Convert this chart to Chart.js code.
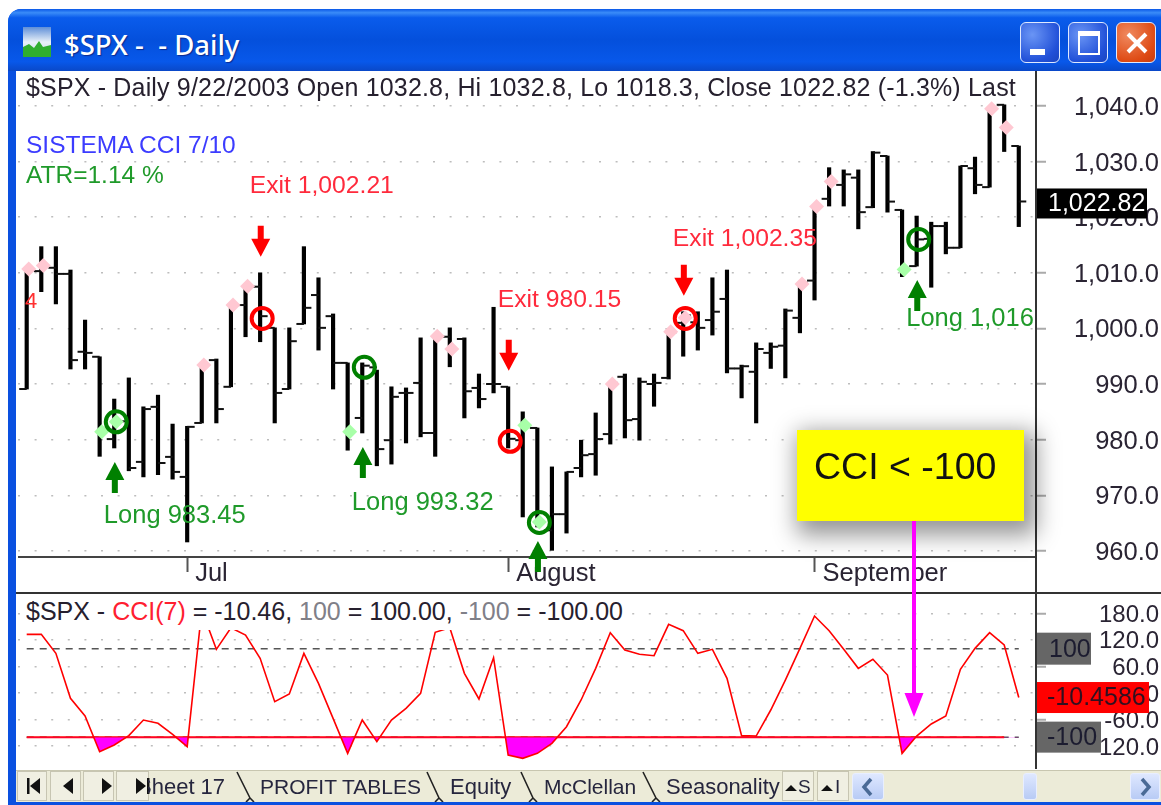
<!DOCTYPE html>
<html>
<head>
<meta charset="utf-8">
<title>$SPX - Daily</title>
<script src="https://cdn.jsdelivr.net/npm/chart.js@4"></script>
<style>
html,body{margin:0;padding:0;background:#fff;overflow:hidden;width:1161px;height:805px;font-family:"Liberation Sans",Arial,sans-serif;color:#26202e}
#all{position:absolute;left:0;top:0;width:1161px;height:805px;overflow:hidden;filter:blur(.45px)}
#win{position:absolute;left:8px;top:9px;width:1153px;height:796px;background:#0a50e0;border-radius:13px 0 0 0}
#titlebar{position:absolute;left:8px;top:9px;width:1153px;height:62px;border-radius:13px 0 0 0;background:linear-gradient(#0a58e8 0,#3a8cf8 6%,#0a5cec 14%,#0450dc 50%,#0858ea 85%,#0a48c8 100%)}
#titletext{position:absolute;left:64px;top:26px;font:500 27.5px "Noto Sans",sans-serif;color:#fff;white-space:pre;text-shadow:1px 1px 1px #0a2a90;line-height:38px}
.wbtn{position:absolute;top:22px;width:40px;height:41px;border-radius:6px;border:1px solid #dfe9ff;box-sizing:border-box;background:radial-gradient(circle at 30% 30%,#6a95f5,#2150d8 70%,#1a44c0)}
#panel{position:absolute;left:16px;top:71px;width:1145px;height:700px;background:#fff}
canvas{position:absolute;display:block}
#c1{left:18px;top:72px}
#c2{left:18px;top:594px}
.hd{position:absolute;white-space:pre;font-size:25px;line-height:30px}
#sep{position:absolute;left:16px;top:592px;width:1145px;height:2px;background:#333}
#vsep{position:absolute;left:1035px;top:71px;width:2px;height:698px;background:#333}
#yellow{position:absolute;left:797px;top:430px;width:227px;height:91px;background:#ffff00;box-shadow:6px 8px 22px 6px rgba(0,0,0,.42)}
#yellow span{position:absolute;left:17px;top:13px;font-size:37.5px;line-height:46px;color:#111}
#overlay{position:absolute;left:0;top:0}
#tabs{position:absolute;left:16px;top:770px;width:1145px;height:32px;background:#ecebd8;border-top:1px solid #c8c6b0;box-sizing:border-box}
#strip{position:absolute;left:8px;top:802px;width:1153px;height:3px;background:#0a50e0}
.nav{position:absolute;top:771px;height:30px;background:#f0efe2;border:1px solid #c7c5b2;box-sizing:border-box}
.tab{position:absolute;top:772px;font-size:22px;line-height:30px;white-space:pre;color:#26263e}
#sheetclip{position:absolute;left:148px;top:772px;width:86px;height:30px;overflow:hidden}
#sheetclip span{position:absolute;left:-11px;top:0;font-size:22px;line-height:30px;white-space:pre;color:#26263e}
.sb{position:absolute;top:773px;height:27px;background:linear-gradient(#dfe8ff,#b8cbf5);border:1px solid #e8eeff;border-radius:3px;box-sizing:border-box}
</style>
</head>
<body>
<div id="all">
<div id="win"></div>
<div id="titlebar"></div>
<svg style="position:absolute;left:23px;top:27px" width="28" height="30" viewBox="0 0 28 30"><defs><linearGradient id="sky" x1="0" y1="0" x2="0" y2="1"><stop offset="0" stop-color="#5f8fd8"/><stop offset=".5" stop-color="#e8f0f8"/><stop offset="1" stop-color="#c8d8e8"/></linearGradient></defs><rect width="28" height="30" fill="url(#sky)"/><path d="M0 30V20l6-3 5 4 5-7 4 6 8-2v12z" fill="#2fae2f"/></svg>
<div id="titletext">$SPX -  - Daily</div>
<div class="wbtn" style="left:1020px"><div style="position:absolute;left:9px;top:26px;width:15px;height:6px;background:#fff"></div></div>
<div class="wbtn" style="left:1068px"><div style="position:absolute;left:9px;top:8px;width:22px;height:24px;border:2px solid #fff;border-top-width:5px;box-sizing:border-box"></div></div>
<div class="wbtn" style="left:1116px;background:radial-gradient(circle at 30% 30%,#f08a60,#de4a14 70%,#c83c10)"><svg style="position:absolute;left:8px;top:9px" width="24" height="22"><path d="M3 2L21 20M21 2L3 20" stroke="#fff" stroke-width="4"/></svg></div>
<div id="panel"></div>

<canvas id="c1" width="1143" height="521"></canvas>
<div id="sep"></div>
<canvas id="c2" width="1143" height="174"></canvas>
<div id="vsep"></div>

<div class="hd" id="head1" style="left:26px;top:72px;letter-spacing:.17px">$SPX - Daily 9/22/2003 Open 1032.8, Hi 1032.8, Lo 1018.3, Close 1022.82 (-1.3%) Last</div>
<div class="hd" style="left:26px;top:130px;color:#3c3cff;font-size:24.5px">SISTEMA CCI 7/10</div>
<div class="hd" style="left:26px;top:160px;color:#1f9a2a;font-size:24.5px">ATR=1.14 %</div>
<div class="hd" style="left:25px;top:286px;color:#ff3030;font-size:22px">4</div>
<div class="hd" id="head2" style="left:26px;top:596px;background:#fff;height:34px;padding-right:2px">$SPX - <span style="color:#ff2030">CCI(7)</span> = -10.46, <span style="color:#808088">100</span> = 100.00, <span style="color:#808088">-100</span> = -100.00</div>

<div id="yellow"><span>CCI &lt; -100</span></div>
<svg id="overlay" width="1161" height="805"><path d="M912 521h4v172h7.5l-9.5 24-9.5-24h7.5z" fill="#ff00ff"/></svg>

<div id="tabs"></div>
<div class="nav" style="left:17px;width:30px"></div><div class="nav" style="left:50px;width:31px"></div><div class="nav" style="left:83px;width:31px"></div><div class="nav" style="left:116px;width:33px"></div>
<svg style="position:absolute;left:17px;top:771px" width="135" height="30"><path d="M10 7h2.5v16H10zM13 15l10-8v16zM46 15l10-8v16zM85 7l10 8-10 8zM119 7l10 8-10 8zM130 7h2.5v16H130z" fill="#111"/></svg>
<div id="sheetclip"><span>Sheet 17</span></div>
<div class="tab" style="left:260px;font-size:21px">PROFIT TABLES</div>
<div class="tab" style="left:450px">Equity</div>
<div class="tab" style="left:544px;font-size:21px">McClellan</div>
<div class="tab" style="left:666px">Seasonality</div>
<svg style="position:absolute;left:0;top:771px" width="1161" height="31"><path d="M237 1L250 27M250 27L246 31M250 27L254 31M427 1L439 27M439 27L435 31M439 27L443 31M521 1L533 27M533 27L529 31M533 27L537 31M643 1L656 27M656 27L652 31M656 27L660 31" stroke="#222" stroke-width="1.6" fill="none"/></svg>
<div class="nav" style="left:782px;width:32px"></div><div class="nav" style="left:817px;width:32px"></div>
<svg style="position:absolute;left:782px;top:771px" width="70" height="30"><path d="M3 20l6-6 6 6zM39 20l6-6 6 6z" fill="#111"/></svg>
<div class="tab" style="left:798px;font-size:19px">S</div>
<div class="tab" style="left:835px;font-size:19px">I</div>
<div class="sb" style="left:852px;width:32px"></div>
<div class="sb" style="left:1023px;width:14px"></div>
<div class="sb" style="left:1130px;width:30px"></div>
<svg style="position:absolute;left:852px;top:773px" width="309" height="27"><path d="M19 6l-7 8 7 8M290 6l7 8-7 8" stroke="#4a6a96" stroke-width="3.5" fill="none"/></svg>
<div id="strip"></div>
</div>

<script>
// ---- values ----
const dates = ['2003-06-16','2003-06-17','2003-06-18','2003-06-19','2003-06-20','2003-06-23','2003-06-24','2003-06-25','2003-06-26','2003-06-27','2003-06-30',
'2003-07-01','2003-07-02','2003-07-03','2003-07-07','2003-07-08','2003-07-09','2003-07-10','2003-07-11','2003-07-14','2003-07-15','2003-07-16','2003-07-17','2003-07-18','2003-07-21','2003-07-22','2003-07-23','2003-07-24','2003-07-25','2003-07-28','2003-07-29','2003-07-30','2003-07-31',
'2003-08-01','2003-08-04','2003-08-05','2003-08-06','2003-08-07','2003-08-08','2003-08-11','2003-08-12','2003-08-13','2003-08-14','2003-08-15','2003-08-18','2003-08-19','2003-08-20','2003-08-21','2003-08-22','2003-08-25','2003-08-26','2003-08-27','2003-08-28','2003-08-29',
'2003-09-02','2003-09-03','2003-09-04','2003-09-05','2003-09-08','2003-09-09','2003-09-10','2003-09-11','2003-09-12','2003-09-15','2003-09-16','2003-09-17','2003-09-18','2003-09-19','2003-09-22'];
const opens = [989.1,1010.3,1010.9,1009.8,995.8,994.9,980.1,983.3,976,985.9,976.9,973.3,983,994.3,989.5,1004.2,1007.5,1000.1,989.1,1000.8,1006,1002.2,993.8,983.9,993,979.9,988.4,990.2,981.2,998.5,998.1,989.3,990,989.5,979.9,982.1,963.7,966.6,974.9,977.4,981,991.3,983.7,990,991.1,1001,1001.1,1001.5,1005.3,992.8,992.2,995.6,996.9,1001.9,1008.6,1023.3,1025.8,1027.1,1021.8,1031,1021.3,1011.2,1016.1,1018.4,1014.5,1028.8,1025.4,1040.2,1032.8];
const highs = [1010.5,1014.7,1014.7,1010.5,1001.5,994.9,987.3,991.1,985.9,988,982.8,982.4,993.4,994.5,1004.2,1007.5,1010,1000.1,1000.1,1014.7,1009.1,1002.6,993.8,993.8,992.5,989.5,989.3,998.3,998.6,1000.1,998.3,991.8,1003.8,989.5,985,982.1,975.1,974.2,979.9,984.8,990.2,991.8,991.1,991.8,999.2,1003,1003,1009.1,1010.5,993.4,997.4,997.4,1003.5,1008.2,1021.9,1028.9,1028.5,1028.5,1031.8,1031,1021.3,1020.2,1019.1,1019.1,1029.2,1030.8,1039.5,1040.2,1032.8];
const lows = [989.1,1006.6,1004.4,992.7,992.7,977,978.5,974.4,973.3,973.7,972.9,961.6,983,983,989.5,998.5,997.6,983,989.1,1000.8,996.1,989.1,978.1,981.2,975.3,975.6,979.4,980.5,977,993.1,983.9,985.7,988.4,978.5,966.1,964.3,960.1,963.2,973.3,973.6,979.2,980.3,979.9,986,990.9,995,996.1,998.8,992,987.5,983,992.8,991.1,999.2,1005.1,1022,1022,1017.9,1021.7,1020.9,1009.3,1011.2,1007.4,1013.4,1014.5,1024.2,1025.4,1031.8,1018.3];
const closes = [1010.5,1011.4,1009.8,994.3,995.6,981.4,983.3,974.9,985.5,975.8,974.2,982.3,993.4,985.5,1004.2,1007.5,1002.2,988.4,997.7,1003.7,1000.1,993.8,981.4,993.3,978.3,987.7,988.4,981.2,998.6,996.3,988.7,987.3,990,980.15,982.6,965.2,966.6,974.2,977.2,980.1,990.2,983.5,990.4,990.2,999.2,1002.35,1000.1,1003,992.8,993.2,996.3,996.7,1003.2,1008.2,1021.9,1026.4,1027.7,1020.9,1031.6,1022.8,1010.5,1016,1018.4,1014.5,1029.2,1025.8,1039.5,1036.1,1022.82];
const cci = [132.4,132.4,89.4,-12.3,-52.3,-132.9,-117.8,-96.7,-61.3,-68.8,-93.7,-121.6,187.4,98.5,147.4,130.9,78.1,-19.9,-2.5,89.4,21.6,-57.5,-136.7,-61.3,-110.3,-61.3,-34.9,-1,136.9,147.4,44.2,-13.8,79.6,-140.4,-148,-136.7,-114,-76.4,-16,55.5,136.1,97,87.2,84.1,155,140.7,89.4,98.5,32.9,-96.7,-97.5,-38.7,29.1,100.7,173.8,140.7,98.5,55.5,75.9,40.4,-136.7,-97.5,-70.3,-52.3,53.2,100.7,136.1,108.3,-10.46];
const priceTicks = [960,970,980,990,1000,1010,1020,1030,1040];
const cciTicks = [-120,-60,0,60,120,180];
const monthBars = [11,33,54];
const monthLabels = ['Jul','August','September'];
const pinkBars = [0,1,12,14,15,28,29,40,44,45,53,54,55,66,67];
const pinkValues = [1010.7,1011.3,993.4,1004.2,1007.6,998.6,996.3,990,999.4,1001.9,1008,1021.9,1026.4,1039.5,1036.1];
const greenBars = [5,6,22,34,35,60];
const greenValues = [981.4,983.2,981.4,982.6,965.2,1010.6];
const longBars = [6,23,35,61];
const longPrices = [983.2,993,965.1,1016];
const longTexts = ['Long 983.45','Long 993.32','','Long 1,016'];
const exitBars = [16,33,45];
const exitPrices = [1001.8,979.7,1001.8];
const exitTexts = ['Exit 1,002.21','Exit 980.15','Exit 1,002.35'];
const lastClose = 1022.82;
const lastCci = -10.4586;
const upperLevel = 100;
const lowerLevel = -100;
const solidLevelEnd = 67;

// ---- styling ----
const FONT = '"Liberation Sans", Arial, sans-serif';
const TEXT = '#2a2433';
const MARK_SHIFT = 0.14;
const xRange = {min:-0.596, max:69.18};
const longGap = [23,25,0,8];
const exitGap = [40,40,26];

Chart.defaults.animation = false;
Chart.defaults.font.family = FONT;

const pts = (bars, vals, shift=0) => bars.map((b,i)=>({x:b+shift, y:vals[i]}));
const idx = dates.map((d,i)=>i);
const noPad = s => {s.paddingTop=0;s.paddingBottom=0;s.paddingLeft=0;s.paddingRight=0;};

function arrow(ctx,x,y,dir,color){
  // y = tip; dir -1 : tip at top (up arrow), +1 : tip at bottom
  const len=31, head=18, hw=9.5, tw=3;
  ctx.save();ctx.fillStyle=color;ctx.beginPath();
  ctx.moveTo(x,y);
  ctx.lineTo(x+hw,y-dir*head);ctx.lineTo(x+tw,y-dir*head);
  ctx.lineTo(x+tw,y-dir*len);ctx.lineTo(x-tw,y-dir*len);
  ctx.lineTo(x-tw,y-dir*head);ctx.lineTo(x-hw,y-dir*head);
  ctx.closePath();ctx.fill();ctx.restore();
}
function badge(ctx,x0,x1,yc,h,bg,fg,text,tx,size){
  ctx.save();ctx.fillStyle=bg;ctx.fillRect(x0,yc-h/2,x1-x0,h);
  ctx.fillStyle=fg;ctx.font=(size||24)+'px '+FONT;ctx.textAlign='left';ctx.textBaseline='middle';
  ctx.fillText(text,tx,yc+1);ctx.restore();
}
const signalPlugin = {
  id:'signals',
  afterDraw(chart){
    const {ctx,scales:{x,y}} = chart;
    ctx.save();
    ctx.textBaseline='middle';ctx.textAlign='left';
    longBars.forEach((b,i)=>{
      const ax=x.getPixelForValue(b)+0.6, tip=y.getPixelForValue(lows[b])+14;
      arrow(ctx,ax,tip,-1,'#008000');
      if(longTexts[i]){ctx.font='25.5px '+FONT;ctx.fillStyle='#1f9a2a';ctx.fillText(longTexts[i],ax-11,tip+31+longGap[i]);}
    });
    exitBars.forEach((b,i)=>{
      const ax=x.getPixelForValue(b)+0.6, tip=y.getPixelForValue(highs[b])-16;
      arrow(ctx,ax,tip,1,'#ff0000');
      ctx.font='24.7px '+FONT;ctx.fillStyle='#ff2a3c';ctx.fillText(exitTexts[i],ax-11,tip-31-exitGap[i]);
    });
    ctx.restore();
    const r=y.left;
    badge(ctx,r+1,r+111,y.getPixelForValue(lastClose)+2,30,'#000','#fff','1,022.82',r+12,25);
  }
};
const badgePlugin = {
  id:'badges',
  afterDraw(chart){
    const {ctx,scales:{y}} = chart, r=y.left;
    badge(ctx,r+1,r+55,y.getPixelForValue(upperLevel),32,'#666','#1c1c30','100',r+13,25);
    badge(ctx,r+1,r+113,y.getPixelForValue(lastCci),31,'#ff0000','#301020','-10.4586',r+11,25);
    badge(ctx,r+1,r+65,y.getPixelForValue(lowerLevel),31,'#666','#1c1c30','-100',r+11,25);
  }
};
const yAxis = (min,max,values,fmt,size)=>({
  position:'right',min,max,
  afterFit(s){s.width=123;noPad(s);},
  afterBuildTicks(s){s.ticks=values.map(v=>({value:v}));},
  border:{display:false,dash:[2,14.6]},
  grid:{color:'#bdbdbd',lineWidth:1.5,tickLength:10,tickColor:'#aaa',tickBorderDash:[],tickWidth:2,drawTicks:true},
  ticks:{color:TEXT,font:{size,family:FONT},padding:0,labelOffset:2,autoSkip:false,align:'center',crossAlign:'far',callback:fmt}
});

new Chart(document.getElementById('c1'),{
  type:'bar',
  data:{datasets:[
    {type:'line',label:'Long',showLine:false,data:pts(longBars,longPrices,MARK_SHIFT),pointRadius:10.5,pointBorderWidth:4,pointBackgroundColor:'transparent',pointBorderColor:'#008000',order:1,clip:false},
    {type:'line',label:'Exit',showLine:false,data:pts(exitBars,exitPrices,MARK_SHIFT),pointRadius:10.5,pointBorderWidth:4,pointBackgroundColor:'transparent',pointBorderColor:'#ff0000',order:1,clip:false},
    {type:'line',label:'Pink',showLine:false,data:pts(pinkBars,pinkValues,MARK_SHIFT),pointStyle:'rectRot',pointRadius:7.5,pointBorderWidth:0,pointBackgroundColor:'#ffc8d2',order:2,clip:false},
    {type:'line',label:'Green',showLine:false,data:pts(greenBars,greenValues,MARK_SHIFT),pointStyle:'rectRot',pointRadius:7.5,pointBorderWidth:0,pointBackgroundColor:'#a8ffa8',order:2,clip:false},
    {type:'line',label:'Close',showLine:false,data:idx.map(i=>({x:i,y:closes[i]})),pointStyle:'dash',pointRadius:7.5,pointBorderWidth:2,pointBorderColor:'#111',order:3},
    {type:'line',label:'Open',showLine:false,data:idx.map(i=>({x:i,y:opens[i]})),pointStyle:'dash',pointRotation:180,pointRadius:7.5,pointBorderWidth:2,pointBorderColor:'#111',order:3},
    {type:'bar',label:'$SPX',data:idx.map(i=>({x:i,y:[lows[i],highs[i]]})),backgroundColor:'#000',barThickness:3.5,order:4}
  ]},
  options:{
    responsive:false,animation:false,events:[],
    layout:{autoPadding:false,padding:{left:0,top:0,bottom:0,right:2}},
    plugins:{legend:{display:false},tooltip:{enabled:false}},
    scales:{
      x:{type:'linear',offset:false,min:xRange.min,max:xRange.max,
        afterFit(s){s.height=36;noPad(s);},
        afterBuildTicks(s){s.ticks=monthBars.map(v=>({value:v}));},
        border:{display:true,color:'#444',width:2},
        grid:{offset:false,drawOnChartArea:false,tickLength:15,tickColor:'#555',tickWidth:2},
        ticks:{color:TEXT,font:{size:25.5,family:FONT},align:'start',labelOffset:8,padding:-13,autoSkip:false,maxRotation:0,
          callback:v=>monthLabels[monthBars.indexOf(v)]}},
      y:yAxis(958.9,1046.1,priceTicks,v=>v.toLocaleString('en-US',{minimumFractionDigits:1,maximumFractionDigits:1}),25.5)
    }
  },
  plugins:[signalPlugin]
});

new Chart(document.getElementById('c2'),{
  type:'line',
  data:{datasets:[
    {label:'CCI(7)',data:idx.map(i=>({x:i,y:cci[i]})),borderColor:'#ff0000',borderWidth:1.6,pointRadius:0,tension:0,
     fill:{value:lowerLevel,above:'rgba(0,0,0,0)',below:'#ff00ff'},order:1},
    {label:'-100 solid',data:[{x:0,y:lowerLevel},{x:solidLevelEnd,y:lowerLevel}],borderColor:'#ff0000',borderWidth:2,pointRadius:0,order:2},
    {label:'-100',data:[{x:0,y:lowerLevel},{x:68,y:lowerLevel}],borderColor:'#555',borderWidth:1.5,borderDash:[7,6],pointRadius:0,order:3},
    {label:'100',data:[{x:0,y:upperLevel},{x:68,y:upperLevel}],borderColor:'#555',borderWidth:1.5,borderDash:[7,6],pointRadius:0,order:3}
  ]},
  options:{
    responsive:false,animation:false,events:[],
    layout:{autoPadding:false,padding:{left:0,top:0,bottom:0,right:2}},
    plugins:{legend:{display:false},tooltip:{enabled:false},filler:{propagate:false}},
    scales:{
      x:{type:'linear',display:false,offset:false,min:xRange.min,max:xRange.max},
      y:yAxis(-169.8,223.6,cciTicks,v=>v.toFixed(1),24)
    }
  },
  plugins:[badgePlugin]
});
</script>
</body>
</html>
